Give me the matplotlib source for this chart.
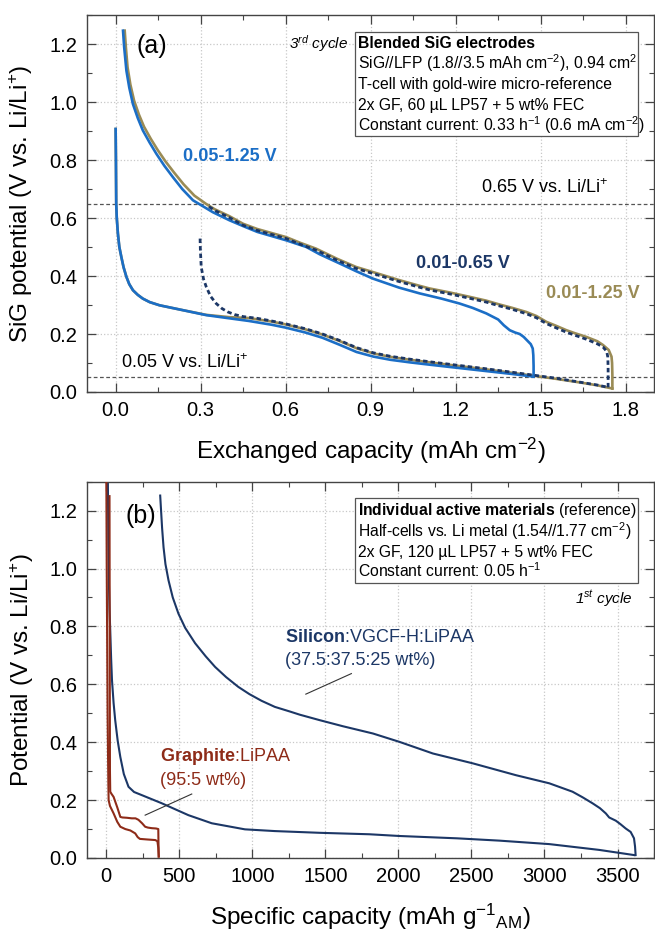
import matplotlib
matplotlib.use('Agg')
import matplotlib.pyplot as plt
from matplotlib.ticker import MultipleLocator, FormatStrFormatter
from matplotlib.patches import Rectangle

plt.rcParams['font.family'] = ['Liberation Sans', 'DejaVu Sans']
plt.rcParams['mathtext.fontset'] = 'custom'
plt.rcParams['mathtext.rm'] = 'Liberation Sans'
plt.rcParams['mathtext.it'] = 'Liberation Sans:italic'
plt.rcParams['mathtext.bf'] = 'Liberation Sans:bold'
plt.rcParams['mathtext.sf'] = 'Liberation Sans'

# ---------------- Panel (a) data ----------------
# 0.05-1.25 V cycle (blue)
blue_lith_cap = [0.0, 0.001, 0.002, 0.004, 0.008, 0.013, 0.02, 0.028, 0.038, 0.048, 0.061, 0.078,
                 0.096, 0.12, 0.155, 0.238, 0.32, 0.402, 0.47, 0.55, 0.60, 0.67, 0.73, 0.79, 0.85,
                 0.91, 0.97, 1.04, 1.11, 1.2, 1.3, 1.4, 1.475]
blue_lith_v = [0.907, 0.80, 0.649, 0.60, 0.546, 0.50, 0.466, 0.43, 0.397, 0.372, 0.351, 0.335,
               0.322, 0.31, 0.299, 0.282, 0.265, 0.254, 0.245, 0.232, 0.222, 0.205, 0.187, 0.163,
               0.138, 0.122, 0.111, 0.102, 0.094, 0.084, 0.073, 0.062, 0.053]
blue_delith_cap = [1.475, 1.475, 1.474, 1.472, 1.465, 1.455, 1.44, 1.426, 1.41, 1.391, 1.37, 1.35,
                   1.308, 1.26, 1.214, 1.15, 1.073, 1.0, 0.908, 0.85, 0.791, 0.72, 0.673, 0.602,
                   0.5, 0.45, 0.402, 0.343, 0.273, 0.235, 0.202, 0.172, 0.144, 0.12, 0.096,
                   0.078, 0.061, 0.048, 0.038, 0.03, 0.026]
blue_delith_v = [0.053, 0.09, 0.127, 0.15, 0.165, 0.175, 0.19, 0.2, 0.205, 0.213, 0.23, 0.25,
                 0.271, 0.29, 0.305, 0.322, 0.34, 0.36, 0.391, 0.416, 0.443, 0.475, 0.5, 0.523,
                 0.552, 0.572, 0.592, 0.62, 0.661, 0.70, 0.741, 0.78, 0.821, 0.86, 0.902,
                 0.945, 0.993, 1.05, 1.108, 1.19, 1.246]

# 0.01-1.25 V cycle (gold)
gold_lith_cap = [0.0, 0.001, 0.002, 0.004, 0.008, 0.013, 0.02, 0.028, 0.038, 0.048, 0.061, 0.078,
                 0.096, 0.12, 0.155, 0.238, 0.32, 0.402, 0.47, 0.55, 0.60, 0.67, 0.73, 0.79, 0.85,
                 0.91, 0.97, 1.04, 1.11, 1.2, 1.3, 1.4, 1.475, 1.55, 1.638, 1.7, 1.753]
gold_lith_v = [0.907, 0.80, 0.649, 0.60, 0.546, 0.50, 0.466, 0.43, 0.397, 0.372, 0.351, 0.335,
               0.322, 0.31, 0.299, 0.282, 0.266, 0.258, 0.255, 0.243, 0.233, 0.216, 0.198, 0.176,
               0.151, 0.133, 0.121, 0.111, 0.102, 0.091, 0.079, 0.066, 0.056, 0.046, 0.033,
               0.023, 0.012]
gold_delith_cap = [1.753, 1.753, 1.752, 1.75, 1.74, 1.72, 1.7, 1.661, 1.62, 1.591, 1.555, 1.52,
                   1.485, 1.449, 1.4, 1.35, 1.308, 1.25, 1.18, 1.108, 1.073, 1.0, 0.92, 0.849,
                   0.78, 0.708, 0.65, 0.602, 0.5, 0.45, 0.402, 0.35, 0.32, 0.278, 0.24, 0.206,
                   0.176, 0.148, 0.124, 0.1, 0.082, 0.065, 0.052, 0.042, 0.036, 0.032]
gold_delith_v = [0.012, 0.06, 0.1, 0.122, 0.145, 0.162, 0.175, 0.19, 0.203, 0.213, 0.228, 0.242,
                 0.262, 0.276, 0.29, 0.303, 0.315, 0.328, 0.343, 0.357, 0.366, 0.386, 0.41, 0.431,
                 0.46, 0.494, 0.515, 0.534, 0.562, 0.58, 0.606, 0.63, 0.648, 0.677, 0.716, 0.757,
                 0.795, 0.835, 0.873, 0.915, 0.957, 1.005, 1.06, 1.12, 1.19, 1.246]

# 0.01-0.65 V cycle (navy, dashed)
navy_lith_cap = [0.298, 0.299, 0.302, 0.31, 0.32, 0.335, 0.355, 0.375, 0.396, 0.42, 0.45, 0.5,
                 0.55, 0.6, 0.67, 0.73, 0.79, 0.85, 0.91, 0.97, 1.04, 1.11, 1.2, 1.3, 1.4, 1.475,
                 1.55, 1.638, 1.7, 1.738]
navy_lith_v = [0.529, 0.49, 0.431, 0.39, 0.362, 0.33, 0.305, 0.288, 0.276, 0.267, 0.26, 0.254,
               0.245, 0.235, 0.218, 0.2, 0.178, 0.153, 0.135, 0.123, 0.113, 0.104, 0.093, 0.081,
               0.068, 0.058, 0.048, 0.034, 0.024, 0.016]
navy_delith_cap = [1.738, 1.738, 1.737, 1.733, 1.72, 1.7, 1.661, 1.62, 1.591, 1.555, 1.52, 1.485,
                   1.449, 1.4, 1.35, 1.308, 1.25, 1.18, 1.108, 1.073, 1.0, 0.92, 0.849, 0.78,
                   0.708, 0.65, 0.602, 0.5, 0.45, 0.402, 0.35, 0.325]
navy_delith_v = [0.016, 0.08, 0.12, 0.14, 0.155, 0.166, 0.182, 0.196, 0.206, 0.221, 0.236, 0.256,
                 0.27, 0.285, 0.298, 0.31, 0.323, 0.338, 0.352, 0.361, 0.381, 0.405, 0.426, 0.455,
                 0.489, 0.51, 0.529, 0.557, 0.575, 0.601, 0.626, 0.642]

cutoff_levels = [0.65, 0.05]

# ---------------- Panel (b) data ----------------
si_lith_cap = [10, 14, 18, 22, 27, 33, 39, 50, 61, 78, 96, 120, 152, 190, 244, 380, 562, 722, 949,
               1154, 1462, 1800, 2008, 2400, 2691, 3033, 3374, 3615]
si_lith_v = [1.35, 1.1, 0.95, 0.86, 0.786, 0.69, 0.614, 0.535, 0.476, 0.405, 0.349, 0.29, 0.246,
             0.228, 0.217, 0.189, 0.148, 0.12, 0.099, 0.093, 0.087, 0.082, 0.076, 0.068, 0.06,
             0.048, 0.028, 0.01]
si_delith_cap = [3624, 3620, 3613, 3590, 3556, 3520, 3488, 3443, 3420, 3380, 3329, 3260, 3192,
                 3033, 2805, 2509, 2236, 2008, 1826, 1621, 1462, 1325, 1257, 1154, 1063, 980, 904,
                 820, 745, 680, 608, 540, 494, 455, 426, 405, 392, 382, 375, 369]
si_delith_v = [0.01, 0.04, 0.068, 0.09, 0.102, 0.117, 0.129, 0.14, 0.154, 0.172, 0.189, 0.21,
               0.229, 0.258, 0.286, 0.327, 0.361, 0.401, 0.43, 0.455, 0.476, 0.495, 0.506, 0.522,
               0.543, 0.566, 0.591, 0.625, 0.66, 0.697, 0.742, 0.795, 0.844, 0.9, 0.959, 1.015,
               1.073, 1.14, 1.2, 1.252]

gr_lith_cap = [0, 3, 6, 9, 12, 14, 16, 25, 50, 75, 96, 130, 165, 198, 215, 230, 280, 335, 350,
               356, 359]
gr_lith_v = [1.35, 1.0, 0.75, 0.5, 0.35, 0.26, 0.2, 0.18, 0.154, 0.125, 0.108, 0.1, 0.095, 0.085,
             0.072, 0.066, 0.064, 0.062, 0.058, 0.035, 0.005]
gr_delith_cap = [359, 357, 356, 340, 312, 285, 266, 245, 220, 200, 175, 140, 110, 96, 75, 50, 35,
                 27, 25, 24, 23, 22]
gr_delith_v = [0.005, 0.06, 0.1, 0.102, 0.103, 0.105, 0.108, 0.12, 0.132, 0.137, 0.137, 0.139,
               0.14, 0.142, 0.175, 0.211, 0.222, 0.229, 0.3, 0.6, 0.9, 1.25]

# ---------------- Styling ----------------
C_BLUE = '#1b6ec6'
C_GOLD = '#9a8b55'
C_NAVY = '#1c3766'
C_RED = '#8e2b18'
TICK_FS = 14.5
LABEL_FS = 17.5
BOX_FS = 11.3


def style_axes(ax, xmaj, xmin, ymaj, ymin, xfmt):
    ax.xaxis.set_major_locator(MultipleLocator(xmaj))
    ax.xaxis.set_minor_locator(MultipleLocator(xmin))
    ax.yaxis.set_major_locator(MultipleLocator(ymaj))
    ax.yaxis.set_minor_locator(MultipleLocator(ymin))
    ax.xaxis.set_major_formatter(FormatStrFormatter(xfmt))
    ax.yaxis.set_major_formatter(FormatStrFormatter('%.1f'))
    ax.tick_params(which='both', direction='in', top=True, right=True, color='#444444')
    ax.tick_params(which='major', length=6.5, width=0.9, labelsize=TICK_FS)
    ax.tick_params(which='minor', length=3.5, width=0.8)
    ax.tick_params(axis='x', which='major', pad=6.5)
    ax.tick_params(axis='y', which='major', pad=7)
    for s in ax.spines.values():
        s.set_color('#444444')
        s.set_linewidth(1.0)
    ax.grid(True, which='major', color='#c8c8c8', linestyle=':', linewidth=0.9)
    ax.set_axisbelow(True)


fig = plt.figure(figsize=(6.55, 9.32), dpi=100)

# ================= Panel (a) =================
axa = fig.add_axes([0.1333, 0.5794, 0.8652, 0.4045])
axa.set_xlim(-0.1, 1.9)
axa.set_ylim(0.0, 1.3)
style_axes(axa, 0.3, 0.15, 0.2, 0.1, '%.1f')

for lv in cutoff_levels:
    axa.axhline(lv, color='#555555', lw=0.9, ls=(0, (3, 2)), zorder=1.5)

axa.plot(gold_lith_cap, gold_lith_v, color=C_GOLD, lw=1.9, zorder=2)
axa.plot(gold_delith_cap, gold_delith_v, color=C_GOLD, lw=1.9, zorder=2)
axa.plot(blue_lith_cap, blue_lith_v, color=C_BLUE, lw=1.9, zorder=3)
axa.plot(blue_delith_cap, blue_delith_v, color=C_BLUE, lw=1.9, zorder=3)
axa.plot(navy_lith_cap, navy_lith_v, color=C_NAVY, lw=2.0, ls=(0, (1.6, 1.1)), zorder=4)
axa.plot(navy_delith_cap, navy_delith_v, color=C_NAVY, lw=2.0, ls=(0, (1.6, 1.1)), zorder=4)

axa.set_ylabel(r'SiG potential (V vs. Li/Li$^{+}$)', fontsize=LABEL_FS)
axa.set_xlabel(r'Exchanged capacity (mAh cm$^{-2}$)', fontsize=LABEL_FS)
axa.yaxis.set_label_coords(-0.092, 0.5)
axa.xaxis.set_label_coords(0.5, -0.178)
axa.xaxis.label.set_va('baseline')

axa.text(0.074, 1.194, '(a)', fontsize=18, va='center', ha='left')
axa.text(0.4606, 0.9117, r'3$^{\it rd}$ cycle', fontsize=11, style='italic',
         ha='right', va='baseline', transform=axa.transAxes)
axa.text(0.236, 0.812, '0.05-1.25 V', color=C_BLUE, fontsize=13, fontweight='bold',
         ha='left', va='center')
axa.text(1.061, 0.444, '0.01-0.65 V', color=C_NAVY, fontsize=13, fontweight='bold',
         ha='left', va='center')
axa.text(1.52, 0.34, '0.01-1.25 V', color=C_GOLD, fontsize=13, fontweight='bold',
         ha='left', va='center')
axa.text(1.737, 0.703, r'0.65 V vs. Li/Li$^{+}$', fontsize=13, ha='right', va='center')
axa.text(0.02, 0.102, r'0.05 V vs. Li/Li$^{+}$', fontsize=13, ha='left', va='center')

axa.add_patch(Rectangle((0.4724, 0.6790), 0.4999, 0.2767, transform=axa.transAxes,
                        facecolor='white', edgecolor='#555555', lw=0.9, zorder=5))
box_a_lines = ['Blended SiG electrodes',
               r'SiG//LFP (1.8//3.5 mAh cm$^{-2}$), 0.94 cm$^{2}$',
               'T-cell with gold-wire micro-reference',
               '2x GF, 60 µL LP57 + 5 wt% FEC',
               r'Constant current: 0.33 h$^{-1}$ (0.6 mA cm$^{-2}$)']
box_a_y = [0.9117, 0.8573, 0.8032, 0.7490, 0.6936]
for i, (t, yy) in enumerate(zip(box_a_lines, box_a_y)):
    axa.text(0.4782, yy, t, fontsize=BOX_FS, ha='left', va='baseline',
             fontweight='bold' if i == 0 else 'normal', transform=axa.transAxes, zorder=6)

# ================= Panel (b) =================
axb = fig.add_axes([0.1333, 0.0794, 0.8652, 0.4038])
axb.set_xlim(-130, 3750)
axb.set_ylim(0.0, 1.3)
style_axes(axb, 500, 250, 0.2, 0.1, '%d')

axb.plot(si_lith_cap, si_lith_v, color=C_NAVY, lw=1.5, zorder=2)
axb.plot(si_delith_cap, si_delith_v, color=C_NAVY, lw=1.5, zorder=2)
axb.plot(gr_lith_cap, gr_lith_v, color=C_RED, lw=1.5, zorder=3)
axb.plot(gr_delith_cap, gr_delith_v, color=C_RED, lw=1.5, zorder=3)

axb.set_ylabel(r'Potential (V vs. Li/Li$^{+}$)', fontsize=LABEL_FS)
axb.set_xlabel(r'Specific capacity (mAh g$^{-1}$$_{\rm AM}$)', fontsize=LABEL_FS)
axb.yaxis.set_label_coords(-0.091, 0.5)
axb.xaxis.set_label_coords(0.5, -0.178)
axb.xaxis.label.set_va('baseline')

axb.text(130, 1.183, '(b)', fontsize=18, va='center', ha='left')
axb.text(0.963, 0.677, r'1$^{\it st}$ cycle', fontsize=11, style='italic',
         ha='right', va='baseline', transform=axb.transAxes)
axb.text(1223, 0.763, r'$\bf{Silicon}$:VGCF-H:LiPAA', color=C_NAVY, fontsize=13,
         ha='left', va='center')
axb.text(1223, 0.683, '(37.5:37.5:25 wt%)', color=C_NAVY, fontsize=13, ha='left', va='center')
axb.text(369, 0.349, r'$\bf{Graphite}$:LiPAA', color=C_RED, fontsize=13, ha='left', va='center')
axb.text(369, 0.269, '(95:5 wt%)', color=C_RED, fontsize=13, ha='left', va='center')
axb.plot([1366, 1678], [0.566, 0.637], color='#333333', lw=0.8, zorder=4)
axb.plot([266, 585], [0.148, 0.221], color='#333333', lw=0.8, zorder=4)

axb.add_patch(Rectangle((0.4724, 0.7308), 0.4999, 0.2259, transform=axb.transAxes,
                        facecolor='white', edgecolor='#555555', lw=0.9, zorder=5))
box_b_lines = [r'$\bf{Individual\ active\ materials}$ (reference)',
               r'Half-cells vs. Li metal (1.54//1.77 cm$^{-2}$)',
               '2x GF, 120 µL LP57 + 5 wt% FEC',
               r'Constant current: 0.05 h$^{-1}$']
box_b_y = [0.9115, 0.8539, 0.8007, 0.7460]
for t, yy in zip(box_b_lines, box_b_y):
    axb.text(0.4782, yy, t, fontsize=BOX_FS, ha='left', va='baseline',
             transform=axb.transAxes, zorder=6)

fig.savefig('out.png', dpi=100)
